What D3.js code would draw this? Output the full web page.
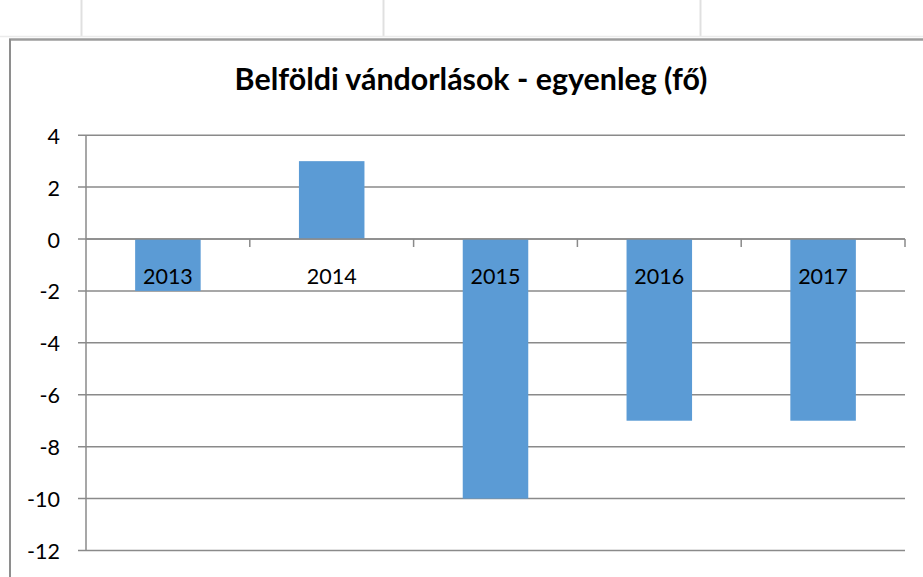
<!DOCTYPE html>
<html>
<head>
<meta charset="utf-8">
<script src="https://cdn.jsdelivr.net/npm/d3@7"></script>
<style>
  html, body { margin: 0; padding: 0; background: #fff; }
  svg { display: block; }
</style>
</head>
<body>
<svg id="chart" width="923" height="577"></svg>
<script>
const title = "Belföldi vándorlások - egyenleg (fő)";
const categories = ["2013", "2014", "2015", "2016", "2017"];
const values = [-2, 3, -10, -7, -7];
const yTicks = [4, 2, 0, -2, -4, -6, -8, -10, -12];

const W = 923, H = 577;
const svg = d3.select("#chart");
const font = "Lato, 'Liberation Sans', Arial, sans-serif";

svg.append("rect").attr("width", W).attr("height", H).attr("fill", "#fff");

// spreadsheet background cell lines above the chart
svg.selectAll("line.cell").data([81.5, 383.5, 700.5]).enter().append("line")
  .attr("x1", d => d).attr("x2", d => d).attr("y1", 0).attr("y2", 36)
  .attr("stroke", "#e0e0e0").attr("stroke-width", 2);
svg.append("line").attr("x1", 0).attr("x2", W).attr("y1", 36.5).attr("y2", 36.5)
  .attr("stroke", "#ebebeb").attr("stroke-width", 1.5);

// chart border
svg.append("line").attr("x1", 9).attr("x2", W).attr("y1", 39.5).attr("y2", 39.5)
  .attr("stroke", "#9c9c9c").attr("stroke-width", 2.5);
svg.append("line").attr("x1", 10).attr("x2", 10).attr("y1", 39).attr("y2", H)
  .attr("stroke", "#8e8e8e").attr("stroke-width", 2);

// title
svg.append("text").attr("x", 471).attr("y", 90)
  .attr("text-anchor", "middle")
  .attr("font-family", font).attr("font-weight", "bold").attr("font-size", 30.4)
  .attr("fill", "#000").text(title);

const y = d3.scaleLinear().domain([-12, 4]).range([550.5, 135.2]);
const x = d3.scaleBand().domain(categories).range([86, 905]).paddingInner(0.6).paddingOuter(0.3);
const step = x.step();

const gridColor = "#8a8a8a";

// gridlines
svg.selectAll("line.grid").data(yTicks).enter().append("line")
  .attr("x1", 78).attr("x2", 905)
  .attr("y1", d => y(d)).attr("y2", d => y(d))
  .attr("stroke", gridColor).attr("stroke-width", 1.5);

// bars
svg.selectAll("rect.bar").data(values).enter().append("rect")
  .attr("x", (d, i) => x(categories[i]))
  .attr("width", x.bandwidth())
  .attr("y", d => y(Math.max(0, d)))
  .attr("height", d => Math.abs(y(d) - y(0)))
  .attr("fill", "#5b9bd5");

// y axis line
svg.append("line").attr("x1", 86).attr("x2", 86).attr("y1", y(4)).attr("y2", y(-12))
  .attr("stroke", gridColor).attr("stroke-width", 1.5);

// category axis at zero with tick marks at band boundaries
const bounds = d3.range(categories.length + 1).map(i => 86 + i * step);
svg.append("line").attr("x1", 86).attr("x2", 905).attr("y1", y(0)).attr("y2", y(0))
  .attr("stroke", gridColor).attr("stroke-width", 1.5);
svg.selectAll("line.ctick").data(bounds.slice(1)).enter().append("line")
  .attr("x1", d => d).attr("x2", d => d).attr("y1", y(0)).attr("y2", y(0) + 8)
  .attr("stroke", gridColor).attr("stroke-width", 1.5);

// y tick labels
svg.selectAll("text.ylab").data(yTicks).enter().append("text")
  .attr("x", 60).attr("y", d => y(d) + 8.5)
  .attr("text-anchor", "end")
  .attr("font-family", font).attr("font-size", 21.5).attr("fill", "#000")
  .text(d => d);

// category labels
svg.selectAll("text.clab").data(categories).enter().append("text")
  .attr("x", d => x(d) + x.bandwidth() / 2).attr("y", y(0) + 44.5)
  .attr("text-anchor", "middle")
  .attr("font-family", font).attr("font-size", 21.5).attr("fill", "#000")
  .text(d => d);
</script>
</body>
</html>
